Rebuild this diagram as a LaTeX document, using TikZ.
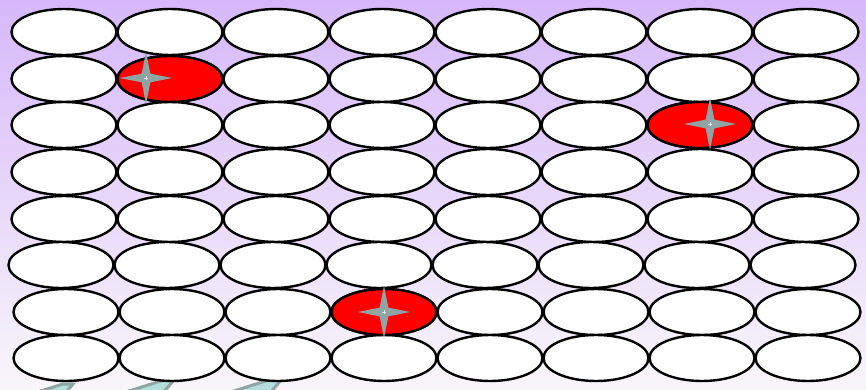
\documentclass[tikz,border=0pt]{standalone}
\usepackage{tikz}
\usetikzlibrary{shapes.geometric,positioning,calc}
\definecolor{skytop}{RGB}{214,184,250}
\definecolor{skymid}{RGB}{240,231,252}
\definecolor{skylow}{RGB}{249,246,250}
\definecolor{sparkgrey}{RGB}{143,165,165}
\definecolor{tilefill}{RGB}{180,222,222}
\tikzset{
  cell/.style={ellipse, draw=black, line width=2.4pt, fill=white,
    minimum width=105pt, minimum height=46pt, inner sep=0pt},
  hit/.style={cell, fill=red},
  spark/.style={star, star points=4, star point ratio=4.2, fill=sparkgrey,
    minimum size=52pt, inner sep=0pt},
  tile/.style={draw=sparkgrey, line width=3pt, fill=tilefill}
}

\begin{document}
\begin{tikzpicture}[x=1pt,y=-1pt]
  \useasboundingbox (0,0) rectangle (866,390);
  \clip (0,0) rectangle (866,390);
  % background
  \shade[top color=skytop, middle color=skymid, bottom color=skylow] (0,0) rectangle (866,390);

  % tiles at the bottom edge
  \foreach \tx/\ty [count=\i] in {63/384, 164/380, 272/379}
    \draw[tile] (\tx,\ty) coordinate (t\i) -- ++(-38,12) -- ++(24,16) -- ++(24,-28) -- cycle;

  % grid of cells
  \foreach \r/\yy/\dx in {1/32/0, 2/79/0, 3/125/0, 4/172/0, 5/219/0, 6/265/-3, 7/312/2, 8/358/2}
    \foreach \c in {1,...,8}
      \node[cell] (e-\r-\c) at ({64+\dx+106*(\c-1)},\yy) {};

  % hit cells
  \node[hit] (h1) at (e-2-2) {};
  \node[hit] (h2) at (e-3-7) {};
  \node[hit] (h3) at (e-7-4) {};

  % sparks
  \node[spark] (s1) at ($(h1)+(-24,-1)$) {};
  \node[spark] (s2) at ($(h2)+(10,-1)$) {};
  \node[spark] (s3) at (h3) {};
  \foreach \s in {s1,s2,s3} {
    \draw[white!70!sparkgrey, line width=0.5pt] ($(\s)+(-2,0)$) -- ($(\s)+(2,0)$);
    \draw[white!70!sparkgrey, line width=0.5pt] ($(\s)+(0,-2)$) -- ($(\s)+(0,2)$);
  }
\end{tikzpicture}
\end{document}
